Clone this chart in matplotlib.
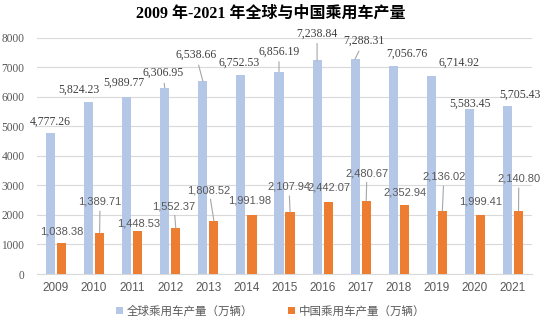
import matplotlib.pyplot as plt
import numpy as np

years = ["2009", "2010", "2011", "2012", "2013", "2014", "2015",
         "2016", "2017", "2018", "2019", "2020", "2021"]
world = [4777.26, 5824.23, 5989.77, 6306.95, 6538.66, 6752.53, 6856.19,
         7238.84, 7288.31, 7056.76, 6714.92, 5583.45, 5705.43]
china = [1038.38, 1389.71, 1448.53, 1552.37, 1808.52, 1991.98, 2107.94,
         2442.07, 2480.67, 2352.94, 2136.02, 1999.41, 2140.80]

# 标签偏移 (像素: dx, dy, 是否画引线)
world_off = [(0, 11.5, 0), (-9.6, 12, 0), (-2.7, 14, 0), (-1.8, 14.7, 1),
             (-6.9, 26, 1), (-2, 11.5, 0), (0, 20, 1), (0, 27, 1),
             (8.7, 17.7, 1), (13.6, 11.6, 0), (27.5, 12.7, 0), (0.4, 5, 0),
             (12.3, 10.5, 0)]
china_off = [(0.5, 12.3, 0), (0.4, 31, 1), (1.3, 8.2, 0), (-1.8, 22, 1),
             (-4.9, 30.6, 1), (-2, 15, 0), (-1, 25, 1), (0.8, 14, 0),
             (0.7, 27.7, 1), (0.6, 12.5, 0), (1.5, 34, 1), (0.4, 13, 0),
             (0.3, 32, 1)]

fig = plt.figure(figsize=(5.44, 3.26), dpi=100)
ax = fig.add_axes([0.068, 0.1595, 0.910, 0.7245])

x = np.arange(len(years))
w = 0.24
b1 = ax.bar(x - 0.145, world, width=w, color="#B4C7E7", label="全球乘用车产量（万辆）", zorder=3)
b2 = ax.bar(x + 0.145, china, width=w, color="#ED7D31", label="中国乘用车产量（万辆）", zorder=3)

ax.set_xlim(-0.5, len(years) - 0.5)
ax.set_ylim(0, 8000)
ax.set_yticks(range(0, 8001, 1000))
ax.set_xticks(x)
ax.set_xticklabels(years, fontsize=8.5, color="#595959", family="Liberation Sans")
for t in ax.get_yticklabels():
    t.set_fontsize(8.3)
    t.set_color("#595959")
    t.set_family("Liberation Serif")
ax.tick_params(length=0)
ax.tick_params(axis="y", pad=9)
ax.tick_params(axis="x", pad=6)
ax.grid(axis="y", color="#D9D9D9", lw=0.8, zorder=0)
for s in ["top", "right", "left"]:
    ax.spines[s].set_visible(False)
ax.spines["bottom"].set_color("#D9D9D9")

px = 0.72
for i in range(len(years)):
    dx, dy, ld = world_off[i]
    ax.annotate(f"{world[i]:,.2f}", xy=(x[i] - 0.145, world[i]),
                xytext=(dx * px, dy * px), textcoords="offset points",
                ha="center", va="center", fontsize=8.5, color="#404040",
                family="Liberation Serif", zorder=5,
                arrowprops=dict(arrowstyle="-", color="#A6A6A6", lw=0.8,
                                shrinkA=1, shrinkB=0) if ld else None)
    dx, dy, ld = china_off[i]
    ax.annotate(f"{china[i]:,.2f}", xy=(x[i] + 0.145, china[i]),
                xytext=(dx * px, dy * px), textcoords="offset points",
                ha="center", va="center", fontsize=8, color="#595959",
                family="Liberation Sans", zorder=5,
                arrowprops=dict(arrowstyle="-", color="#A6A6A6", lw=0.8,
                                shrinkA=1, shrinkB=0) if ld else None)

fig.text(0.498, 0.957, "2009 年-2021 年全球与中国乘用车产量", ha="center", va="center",
         fontsize=11.5, fontweight="bold", family=["Liberation Serif", "Noto Sans CJK SC"])

leg = fig.legend(handles=[b1, b2], loc="center", bbox_to_anchor=(0.497, 0.046), ncol=2,
                 frameon=False, handlelength=0.65, handleheight=0.65, handletextpad=0.3,
                 columnspacing=3.0, prop={"family": "Noto Sans CJK SC", "size": 8.3})
for t in leg.get_texts():
    t.set_color("#595959")

fig.savefig("out.png", dpi=100)
